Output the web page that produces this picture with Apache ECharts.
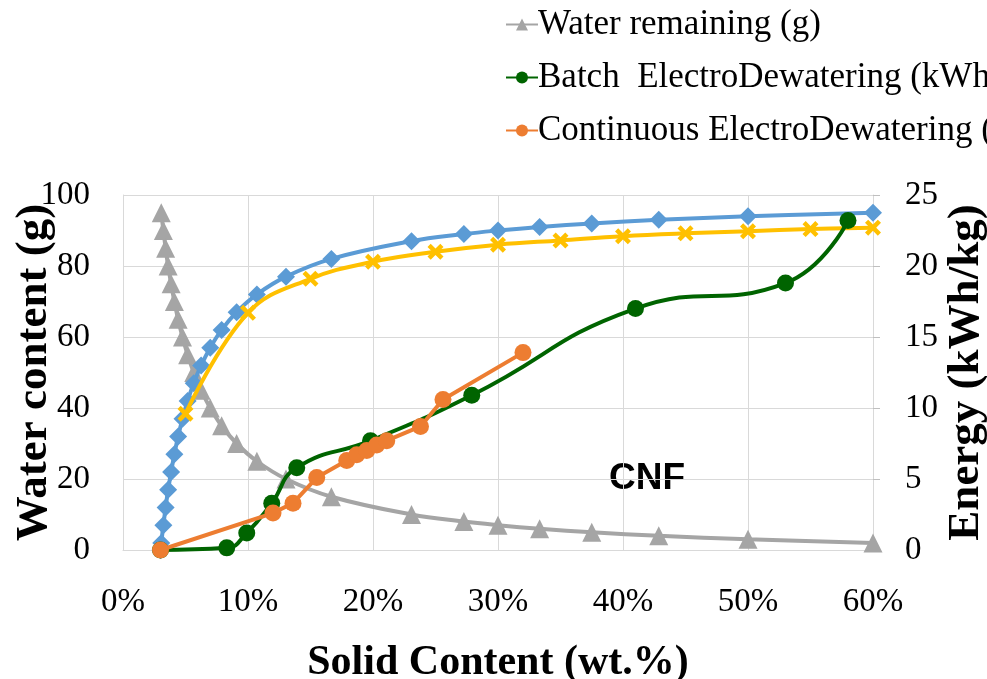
<!DOCTYPE html>
<html>
<head>
<meta charset="utf-8">
<script src="https://cdn.jsdelivr.net/npm/echarts@6/dist/echarts.min.js"></script>
<style>
html,body{margin:0;padding:0;background:#fff;}
#chart{width:987px;height:679px;}
</style>
</head>
<body>
<div id="chart"></div>
<script>
// ---- data (x in wt.% solid content) ----
var waterSolid = [3.06,3.23,3.41,3.61,3.85,4.11,4.41,4.76,5.17,5.66,6.25,6.98,7.89,9.09,10.71,13.04,16.67,23.08,27.27,30.0,33.33,37.5,42.86,50,60];
var waterRemaining = [95,90,85,80,75,70,65,60,55,50,45,40,35,30,25,20,15,10,8,7,6,5,4,3,2];

var blueSolid = [3.0,3.06,3.23,3.41,3.61,3.85,4.11,4.41,4.76,5.17,5.66,6.25,6.98,7.89,9.09,10.71,13.04,16.67,23.08,27.27,30.0,33.33,37.5,42.86,50,60];
var blueEnergy = [0,0.5,1.75,3.0,4.25,5.5,6.75,8.0,9.25,10.5,11.75,13.0,14.25,15.5,16.75,18.0,19.25,20.5,21.75,22.25,22.5,22.75,23.0,23.25,23.5,23.75];

var yellowSolid = [5,10,15,20,25,30,35,40,45,50,55,60];
var yellowEnergy = [9.6,16.7,19.1,20.3,21.0,21.5,21.8,22.1,22.3,22.45,22.6,22.7];

var batchSolid = [3,8.3,9.9,11.9,13.9,19.8,27.9,41,53,58];
var batchEnergy = [0,0.15,1.2,3.3,5.8,7.7,10.9,17.0,18.8,23.2];

var contSolid = [3,12,13.6,15.5,17.9,18.7,19.5,20.3,21.1,23.8,25.6,32];
var contEnergy = [0,2.6,3.3,5.1,6.3,6.7,7.0,7.4,7.7,8.7,10.6,13.9];

var xTicks = [0,10,20,30,40,50,60];
var leftTicks = [0,20,40,60,80,100];
var rightTicks = [0,5,10,15,20,25];

function zip(a,b){ return a.map(function(v,i){ return [v,b[i]]; }); }

var serif = 'Liberation Serif';
var crossPath = 'path://M0,2 L2,0 L5,3 L8,0 L10,2 L7,5 L10,8 L8,10 L5,7 L2,10 L0,8 L3,5 Z';

var chart = echarts.init(document.getElementById('chart'));
chart.setOption({
  animation: false,
  backgroundColor: '#fff',
  textStyle: {fontFamily: serif, color: '#000'},
  legend: {
    orient: 'vertical',
    left: 500, top: -1,
    itemWidth: 32, itemHeight: 15,
    itemGap: 12,
    data: ['Water remaining (g)', 'Batch  ElectroDewatering (kWh/kg)', 'Continuous ElectroDewatering (kWh/kg)'],
    textStyle: {fontFamily: serif, fontSize: 35, color: '#000', lineHeight: 41, padding: [0,0,0,-5]}
  },
  grid: {left: 123, right: 114, top: 195, bottom: 129, containLabel: false, outerBoundsMode: 'none'},
  graphic: [{
    type: 'text', left: 609, top: 460,
    style: {text: 'CNF', font: 'bold 37px "Liberation Sans"', fill: '#000'}
  }],
  xAxis: {
    type: 'value', min: 0, max: 60, interval: 10,
    name: 'Solid Content (wt.%)', nameLocation: 'middle', nameGap: 92, nameMoveOverlap: false,
    nameTextStyle: {fontFamily: serif, fontSize: 42, fontWeight: 'bold', color: '#000'},
    axisLine: {show: true, lineStyle: {color: '#d9d9d9', width: 1}},
    axisTick: {show: false},
    axisLabel: {margin: 36, fontSize: 33, fontFamily: serif, color: '#000', formatter: '{value}%'},
    splitLine: {show: true, lineStyle: {color: '#d9d9d9', width: 1}}
  },
  yAxis: [{
    type: 'value', min: 0, max: 100, interval: 20,
    name: 'Water content (g)', nameLocation: 'middle', nameGap: 66, nameRotate: 90, nameMoveOverlap: false,
    nameTextStyle: {fontFamily: serif, fontSize: 45, fontWeight: 'bold', color: '#000'},
    axisLine: {show: true, lineStyle: {color: '#d9d9d9', width: 1}},
    axisTick: {show: false},
    axisLabel: {margin: 33, fontSize: 33, fontFamily: serif, color: '#000'},
    splitLine: {show: true, lineStyle: {color: '#d9d9d9', width: 1}}
  }, {
    type: 'value', min: 0, max: 25, interval: 5, position: 'right',
    name: 'Energy (kWh/kg)', nameLocation: 'middle', nameGap: 71, nameRotate: 90, nameMoveOverlap: false,
    nameTextStyle: {fontFamily: serif, fontSize: 45, fontWeight: 'bold', color: '#000'},
    axisLine: {show: true, lineStyle: {color: '#d9d9d9', width: 1}},
    axisTick: {show: true, length: 7, inside: false, lineStyle: {color: '#bfbfbf'}},
    axisLabel: {margin: 32, fontSize: 33, fontFamily: serif, color: '#000'},
    splitLine: {show: false}
  }],
  series: [{
    name: 'Water remaining (g)', type: 'line', yAxisIndex: 0,
    data: zip(waterSolid, waterRemaining), smooth: 0.4,
    symbol: 'triangle', symbolSize: 19,
    lineStyle: {color: '#A5A5A5', width: 4},
    itemStyle: {color: '#A5A5A5'}, z: 2
  }, {
    name: 'Blue energy', type: 'line', yAxisIndex: 1,
    data: zip(blueSolid, blueEnergy), smooth: 0.4,
    symbol: 'diamond', symbolSize: 18,
    lineStyle: {color: '#5B9BD5', width: 4},
    itemStyle: {color: '#5B9BD5'}, z: 3
  }, {
    name: 'Yellow energy', type: 'line', yAxisIndex: 1,
    data: zip(yellowSolid, yellowEnergy), smooth: 0.4,
    symbol: crossPath, symbolSize: 16,
    lineStyle: {color: '#FFC000', width: 4},
    itemStyle: {color: '#FFC000'}, z: 4
  }, {
    name: 'Batch  ElectroDewatering (kWh/kg)', type: 'line', yAxisIndex: 1,
    data: zip(batchSolid, batchEnergy), smooth: 0.5,
    symbol: 'circle', symbolSize: 17,
    lineStyle: {color: '#006400', width: 4},
    itemStyle: {color: '#006400'}, z: 5
  }, {
    name: 'Continuous ElectroDewatering (kWh/kg)', type: 'line', yAxisIndex: 1,
    data: zip(contSolid, contEnergy), smooth: false,
    symbol: 'circle', symbolSize: 17,
    lineStyle: {color: '#ED7D31', width: 4},
    itemStyle: {color: '#ED7D31'}, z: 6
  }]
});
</script>
</body>
</html>
